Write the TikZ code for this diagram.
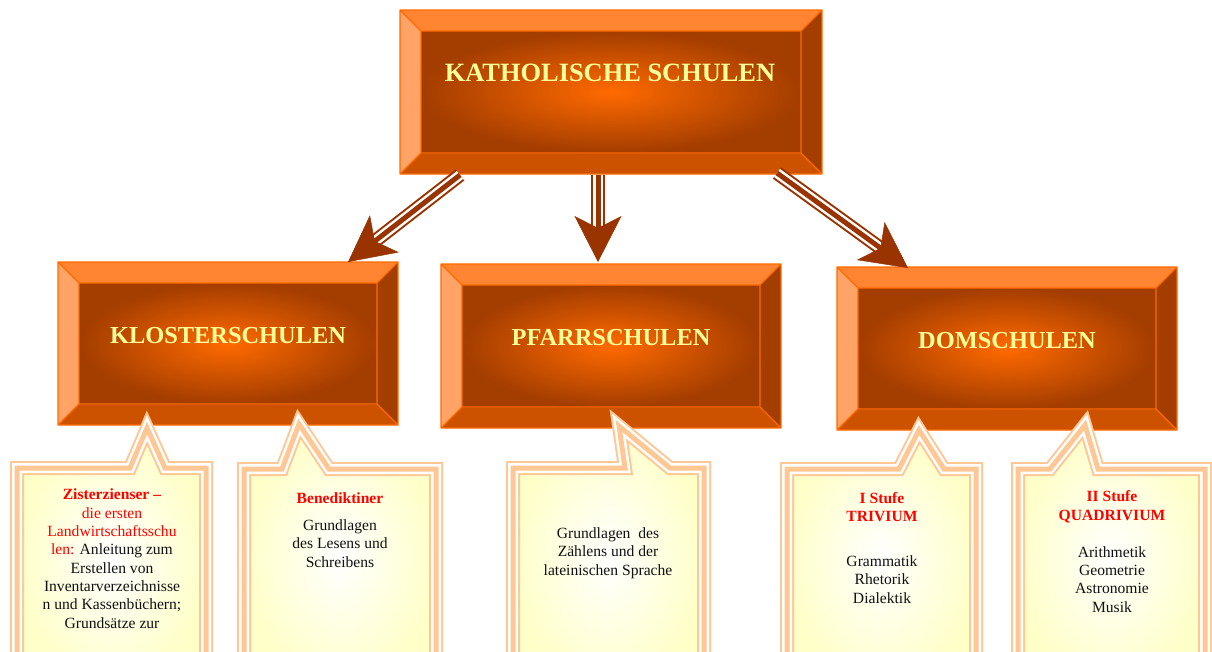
\documentclass[tikz,border=0pt]{standalone}
\usepackage{fontspec}
\setmainfont{Liberation Serif}
\usetikzlibrary{arrows.meta}
\definecolor{bvtop}{HTML}{FF8533}
\definecolor{bvleft}{HTML}{FFA366}
\definecolor{bvright}{HTML}{A33D00}
\definecolor{bvbottom}{HTML}{CC5200}
\definecolor{bvline}{HTML}{FF6A00}
\definecolor{incenter}{HTML}{FF6A00}
\definecolor{inedge}{HTML}{A33D00}
\definecolor{titlecol}{HTML}{FFFF99}
\definecolor{arrowcol}{HTML}{993300}
\definecolor{callcol}{HTML}{FFC794}
\definecolor{callfill}{HTML}{FFFFC8}
\definecolor{redtext}{HTML}{FF0000}
\definecolor{blacktext}{HTML}{111111}

\newcommand\bevelbox[5]{%
 \fill[bvtop] (#1,#2) -- (#3,#2) -- ({#3-#5},{#2+#5}) -- ({#1+#5},{#2+#5}) -- cycle;
 \fill[bvright] (#3,#2) -- (#3,#4) -- ({#3-#5},{#4-#5}) -- ({#3-#5},{#2+#5}) -- cycle;
 \fill[bvbottom] (#3,#4) -- (#1,#4) -- ({#1+#5},{#4-#5}) -- ({#3-#5},{#4-#5}) -- cycle;
 \fill[bvleft] (#1,#4) -- (#1,#2) -- ({#1+#5},{#2+#5}) -- ({#1+#5},{#4-#5}) -- cycle;
 \shade[inner color=incenter, outer color=inedge] ({#1+#5},{#2+#5}) rectangle ({#3-#5},{#4-#5});
 \draw[bvline, line width=1.2pt, line join=round]
   (#1,#2) rectangle (#3,#4)
   ({#1+#5},{#2+#5}) rectangle ({#3-#5},{#4-#5})
   (#1,#2) -- ({#1+#5},{#2+#5}) (#3,#2) -- ({#3-#5},{#2+#5})
   (#3,#4) -- ({#3-#5},{#4-#5}) (#1,#4) -- ({#1+#5},{#4-#5});
}
\newcommand\calloutshape[1]{%
 \shade[inner color=white, outer color=callfill] #1;
 \draw[callcol, line width=14pt] #1;
 \draw[white, line width=10pt] #1;
 \draw[callcol, line width=5pt] #1;
}
\newcommand\triplearrow[2]{%
 \draw[arrowcol, line width=14pt, shorten >=30pt] (#1) -- (#2);
 \draw[white, line width=10pt, shorten >=30pt] (#1) -- (#2);
 \draw[arrowcol, line width=5pt, shorten >=30pt] (#1) -- (#2);
 \draw[arrowcol, line width=0.5pt, -{Stealth[length=46pt,width=47pt,inset=12pt]}] (#1) -- (#2);
}
\tikzset{
 titletext/.style={text=titlecol, anchor=base, inner sep=0pt},
 bigtitle/.style={titletext, font=\fontsize{26.4}{30}\selectfont\bfseries},
 midtitle/.style={titletext, font=\fontsize{24.4}{28}\selectfont\bfseries},
 calltext/.style={anchor=base, align=center, inner sep=0pt, text=blacktext,
   font=\fontsize{15.6}{18.3}\selectfont},
}

\begin{document}
\begin{tikzpicture}[x=1pt,y=-1pt]
\useasboundingbox (0,0) rectangle (1212,651);
\fill[white] (0,0) rectangle (1212,651);

% boxes
\bevelbox{400}{10}{822}{174}{21}
\node[bigtitle] (kath) at (610,81) {KATHOLISCHE SCHULEN};
\bevelbox{58}{262}{398}{425}{21}
\node[midtitle] (kloster) at (228,343) {KLOSTERSCHULEN};
\bevelbox{441}{264}{781}{428}{21}
\node[midtitle] (pfarr) at (611,345) {PFARRSCHULEN};
\bevelbox{837}{267}{1177}{430}{21}
\node[midtitle] (dom) at (1007,348) {DOMSCHULEN};

% arrows
\coordinate (a1s) at (460,175);
\coordinate (a1t) at (348,262);
\coordinate (a2s) at (598,175);
\coordinate (a2t) at (598,262);
\coordinate (a3s) at (777,173);
\coordinate (a3t) at (908,268);
\triplearrow{a1s}{a1t}
\triplearrow{a2s}{a2t}
\triplearrow{a3s}{a3t}

% callouts
\calloutshape{(17,690) -- (17,468) -- (130,468) -- (147,428) -- (165,468) -- (206,468) -- (206,690) -- cycle}
\calloutshape{(244,690) -- (244,469) -- (282,469) -- (299,424) -- (329,469) -- (436,469) -- (436,690) -- cycle}
\calloutshape{(513,690) -- (513,468) -- (625,468) -- (619,426) -- (670,468) -- (704,468) -- (704,690) -- cycle}
\calloutshape{(787,690) -- (787,469) -- (899,469) -- (919,430) -- (944,469) -- (976,469) -- (976,690) -- cycle}
\calloutshape{(1018,690) -- (1018,469) -- (1050,469) -- (1085,425) -- (1098,469) -- (1205,469) -- (1205,690) -- cycle}

% callout texts (anchor = baseline of the last line)
\node[calltext] (zist) at (112,628) {%
 \textcolor{redtext}{\textbf{Zisterzienser –}}\\
 \textcolor{redtext}{die ersten}\\
 \textcolor{redtext}{Landwirtschaftsschu}\\
 \textcolor{redtext}{len:} Anleitung zum\\
 Erstellen von\\
 Inventarverzeichnisse\\
 n und Kassenbüchern;\\
 Grundsätze zur};
\node[calltext] (bene) at (340,567) {%
 \textcolor{redtext}{\textbf{Benediktiner}}\\[8.7pt]
 Grundlagen\\
 des Lesens und\\
 Schreibens};
\node[calltext] (zaehl) at (608,575) {%
 Grundlagen\ \ des\\
 Zählens und der\\
 lateinischen Sprache};
\node[calltext] (triv) at (882,603) {%
 \textcolor{redtext}{\textbf{I Stufe}}\\
 \textcolor{redtext}{\textbf{TRIVIUM}}\\[26.7pt]
 Grammatik\\
 Rhetorik\\
 Dialektik};
\node[calltext] (quad) at (1112,612) {%
 \textcolor{redtext}{\textbf{II Stufe}}\\
 \textcolor{redtext}{\textbf{QUADRIVIUM}}\\[18.7pt]
 Arithmetik\\
 Geometrie\\
 Astronomie\\
 Musik};
\end{tikzpicture}
\end{document}
